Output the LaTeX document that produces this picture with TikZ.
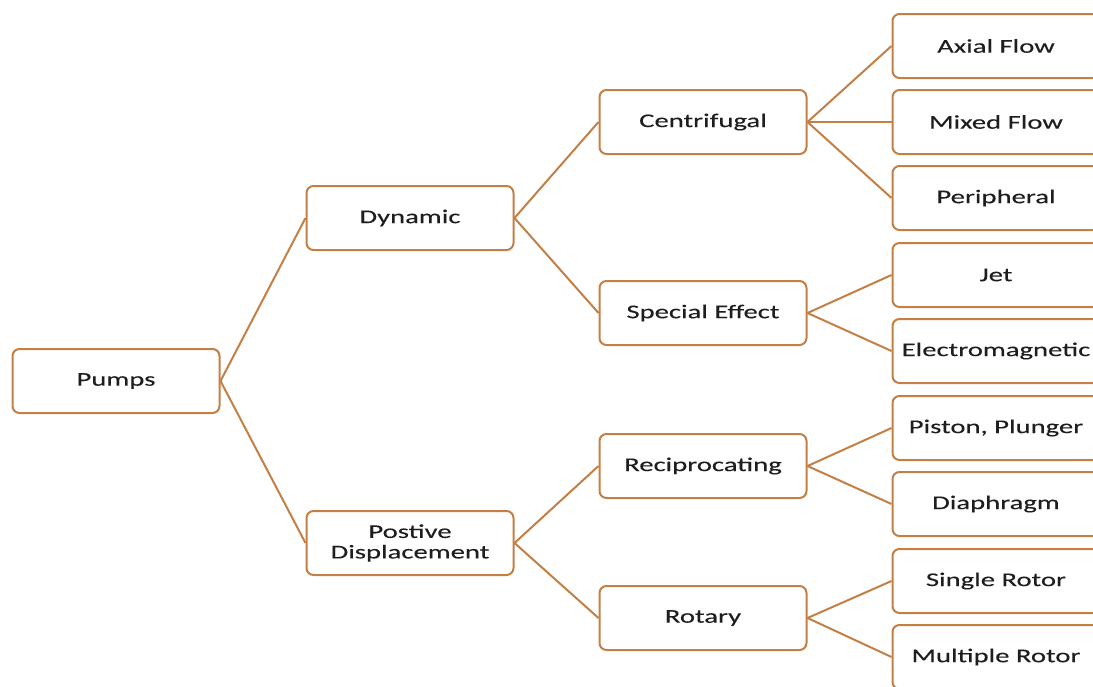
\documentclass[tikz,border=0pt]{standalone}
\usepackage{fontspec}
\setmainfont{Carlito}[FakeStretch=1.47,FakeBold=0.15]
\definecolor{boxline}{RGB}{196,127,69}
\definecolor{boxtext}{RGB}{30,30,30}
\begin{document}
\begin{tikzpicture}[x=1pt,y=-1pt,
    box/.style={draw=boxline,line width=2pt,rounded corners=7pt,fill=white,
        minimum width=207pt,minimum height=64pt,align=center,text=boxtext,
        font=\fontsize{19.5}{20.5}\selectfont},
    link/.style={draw=boxline,line width=2pt}]
    \useasboundingbox (0,0) rectangle (1093,686);
    \clip (0,0) rectangle (1093,686);
    % level 0 and 1
    \node[box] (pumps) at (116,381) {Pumps};
    \node[box] (dynamic) at (410,218) {Dynamic};
    \node[box] (posdisp) at (410,543) {Postive\\Displacement};
    % level 2
    \node[box] (centrifugal) at (703,122) {Centrifugal};
    \node[box] (special) at (703,313) {Special Effect};
    \node[box] (recip) at (703,466) {Reciprocating};
    \node[box] (rotary) at (703,618) {Rotary};
    % level 3
    \node[box] (axial) at (996,46) {Axial Flow};
    \node[box] (mixed) at (996,122) {Mixed Flow};
    \node[box] (periph) at (996,198) {Peripheral};
    \node[box] (jet) at (996,275) {Jet};
    \node[box] (electro) at (996,351) {Electromagnetic};
    \node[box] (piston) at (996,428) {Piston, Plunger};
    \node[box] (diaphragm) at (996,504) {Diaphragm};
    \node[box] (single) at (996,581) {Single Rotor};
    \node[box] (multiple) at (996,657) {Multiple Rotor};
    % links
    \foreach \from/\to in {pumps/dynamic,pumps/posdisp,
        dynamic/centrifugal,dynamic/special,posdisp/recip,posdisp/rotary,
        centrifugal/axial,centrifugal/mixed,centrifugal/periph,
        special/jet,special/electro,recip/piston,recip/diaphragm,
        rotary/single,rotary/multiple}
        \draw[link] (\from.east) -- (\to.west);
\end{tikzpicture}
\end{document}
